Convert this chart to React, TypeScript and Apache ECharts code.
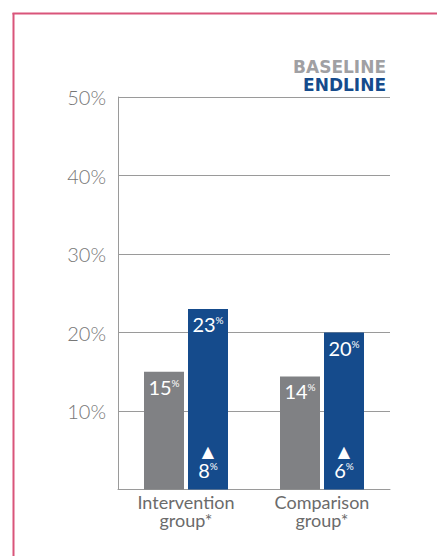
import React, { useEffect, useRef } from "react";
import * as echarts from "echarts";

const categories = ["Intervention\ngroup*", "Comparison\ngroup*"];
const baseline = [15, 14.4];
const endline = [23, 20];
const baselineLabels = ["15", "14"];
const endlineLabels = ["23", "20"];
const changeLabels = ["8", "6"];
const yTicks = [0, 10, 20, 30, 40, 50];

const GRAY = "#808184";
const BLUE = "#154b8c";

export default function App() {
  const ref = useRef<HTMLDivElement>(null);
  useEffect(() => {
    if (!ref.current) return;
    const chart = echarts.init(ref.current, null, { renderer: "svg" });
    const numRich = {
      v: { fontFamily: "Lato", fontSize: 20, color: "#fff", lineHeight: 20 },
      p: { fontFamily: "Lato", fontSize: 10, color: "#fff", lineHeight: 20, padding: [0, 0, 8, 0] },
      t: { fontFamily: "DejaVu Sans", fontSize: 16, color: "#fff", lineHeight: 17 },
    };
    chart.setOption({
      animation: false,
      grid: { left: 118, right: 47, top: 97, bottom: 66.5, containLabel: false },
      xAxis: [
        {
          type: "category",
          data: categories,
          axisLine: { show: true, lineStyle: { color: "#9a9a9a", width: 1 } },
          axisTick: { show: false },
          axisLabel: {
            fontFamily: "Lato",
            fontSize: 18,
            lineHeight: 18,
            color: "#6b6b6b",
            margin: 3,
          },
        },
        { type: "category", data: categories, show: false },
      ],
      yAxis: {
        type: "value",
        min: yTicks[0],
        max: yTicks[yTicks.length - 1],
        interval: 10,
        axisLine: { show: true, lineStyle: { color: "#9a9a9a", width: 1 } },
        axisTick: { show: false },
        splitLine: { show: true, lineStyle: { color: "#9a9a9a", width: 1 } },
        axisLabel: {
          formatter: (v: number) => (v === 0 ? "" : v + "%"),
          fontFamily: "Lato",
          fontWeight: 300,
          fontSize: 20,
          color: "#777777",
          margin: 12,
          padding: [0, 0, 10, 0],
        },
      },
      series: [
        {
          name: "Baseline",
          type: "bar",
          data: baseline,
          barWidth: 40,
          barGap: "10%",
          itemStyle: { color: GRAY },
          label: {
            show: true,
            position: "insideTop",
            distance: 5,
            formatter: (p: any) => `{v|${baselineLabels[p.dataIndex]}}{p|%}`,
            rich: numRich,
          },
        },
        {
          name: "Endline",
          type: "bar",
          data: endline,
          barWidth: 40,
          barGap: "10%",
          itemStyle: { color: BLUE },
          label: {
            show: true,
            position: "insideTop",
            distance: 5,
            formatter: (p: any) => `{v|${endlineLabels[p.dataIndex]}}{p|%}`,
            rich: numRich,
          },
        },
        {
          name: "ghostBase",
          type: "bar",
          xAxisIndex: 1,
          data: baseline,
          barWidth: 40,
          barGap: "10%",
          silent: true,
          itemStyle: { color: "rgba(0,0,0,0)" },
        },
        {
          name: "Change",
          type: "bar",
          xAxisIndex: 1,
          data: endline,
          barWidth: 40,
          barGap: "10%",
          silent: true,
          itemStyle: { color: "rgba(0,0,0,0)" },
          label: {
            show: true,
            position: "insideBottom",
            distance: 10,
            formatter: (p: any) => `{t|▲}\n{v|${changeLabels[p.dataIndex]}}{p|%}`,
            rich: numRich,
          },
        },
      ],
      graphic: [
        { type: "line", shape: { x1: 13.5, y1: 13, x2: 13.5, y2: 556 }, style: { stroke: "#d9557a", lineWidth: 2 } },
        { type: "line", shape: { x1: 12.5, y1: 13.5, x2: 437, y2: 13.5 }, style: { stroke: "#d9557a", lineWidth: 2 } },
        {
          type: "text",
          x: 386,
          y: 67,
          style: {
            text: "BASELINE",
            fill: "#a0a0a3",
            font: "bold 17px 'DejaVu Sans'",
            textAlign: "right",
            textVerticalAlign: "middle",
          },
        },
        {
          type: "text",
          x: 386,
          y: 85,
          style: {
            text: "ENDLINE",
            fill: BLUE,
            font: "bold 17px 'DejaVu Sans'",
            textAlign: "right",
            textVerticalAlign: "middle",
          },
        },
      ],
    });
    return () => chart.dispose();
  }, []);
  return (
    <div
      ref={ref}
      style={{ position: "fixed", left: 0, top: 0, width: 437, height: 556, background: "#fff" }}
    />
  );
}
